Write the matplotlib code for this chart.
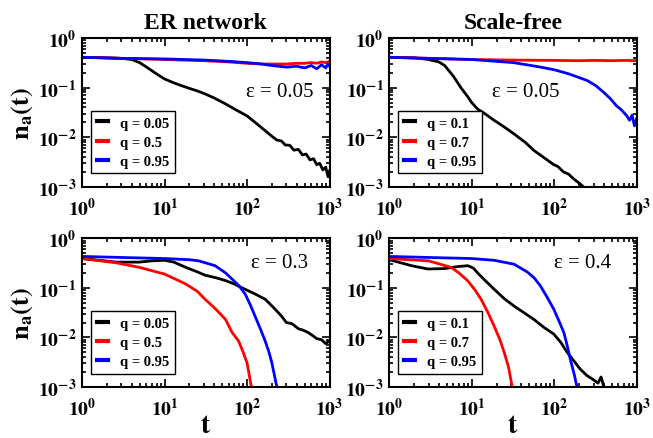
import math
import matplotlib
matplotlib.use("Agg")
import matplotlib.pyplot as plt
from matplotlib.ticker import LogLocator, FuncFormatter, NullFormatter

plt.rcParams['font.family'] = ['Liberation Serif', 'DejaVu Serif']
plt.rcParams['mathtext.fontset'] = 'stix'

# ER network, eps = 0.05
er1_labels = ["q = 0.05", "q = 0.5", "q = 0.95"]
er1_t_black = [1, 2, 3, 4, 5, 6.5, 8, 10, 13, 16, 20, 25, 31, 40, 55, 75, 100, 130, 166, 200,
               230, 262, 290, 330, 370, 420, 470, 520, 580, 640, 700, 760, 830, 900, 960, 1000]
er1_n_black = [0.41, 0.40, 0.39, 0.37, 0.32, 0.24, 0.19, 0.15, 0.125, 0.11, 0.097, 0.086, 0.075,
               0.062, 0.047, 0.035, 0.027, 0.019, 0.0136, 0.0105, 0.0088, 0.0084, 0.0070, 0.0069,
               0.0055, 0.0057, 0.0044, 0.0046, 0.0035, 0.0037, 0.0028, 0.0030, 0.0022, 0.0025,
               0.0016, 0.0021]
er1_t_red = [1, 3, 10, 30, 60, 100, 150, 200, 300, 400, 500, 600, 700, 800, 900, 1000]
er1_n_red = [0.41, 0.39, 0.37, 0.35, 0.33, 0.31, 0.30, 0.30, 0.30, 0.31, 0.31, 0.32, 0.31, 0.33,
             0.32, 0.34]
er1_t_blue = [1, 3, 10, 30, 60, 100, 150, 200, 300, 400, 500, 600, 700, 800, 900, 950, 1000]
er1_n_blue = [0.41, 0.39, 0.38, 0.36, 0.34, 0.32, 0.30, 0.28, 0.26, 0.27, 0.25, 0.28, 0.24, 0.29,
              0.25, 0.30, 0.27]

# Scale-free, eps = 0.05
sf1_labels = ["q = 0.1", "q = 0.7", "q = 0.95"]
sf1_t_black = [1, 2, 3, 4, 4.7, 6, 7.4, 9, 10, 11.8, 14, 18.7, 25, 32.6, 45, 57, 75, 99, 110,
               130, 150, 172, 200, 227]
sf1_n_black = [0.41, 0.40, 0.37, 0.33, 0.28, 0.17, 0.10, 0.065, 0.05, 0.037, 0.031, 0.022, 0.016,
               0.0117, 0.0078, 0.0054, 0.0039, 0.0028, 0.0026, 0.0020, 0.0018, 0.00145, 0.0012,
               0.001]
sf1_t_red = [1, 3, 10, 30, 100, 200, 300, 500, 700, 1000]
sf1_n_red = [0.41, 0.39, 0.37, 0.36, 0.355, 0.35, 0.355, 0.35, 0.355, 0.35]
sf1_t_blue = [1, 3, 10, 32, 60, 100, 150, 250, 320, 400, 480, 570, 650, 760, 820, 880, 940, 1000]
sf1_n_blue = [0.41, 0.39, 0.37, 0.32, 0.27, 0.23, 0.19, 0.14, 0.11, 0.08, 0.06, 0.043, 0.036,
              0.027, 0.022, 0.028, 0.017, 0.024]

# ER network, eps = 0.3
er2_labels = ["q = 0.05", "q = 0.5", "q = 0.95"]
er2_t_black = [1, 1.6, 2.6, 4.9, 7, 10, 13, 18, 25, 31, 42, 55, 70, 87, 120, 166, 210, 262, 300,
               350, 420, 480, 550, 620, 700, 800, 900, 1000]
er2_n_black = [0.39, 0.36, 0.33, 0.33, 0.35, 0.36, 0.33, 0.26, 0.21, 0.18, 0.16, 0.14, 0.12, 0.10,
               0.078, 0.059, 0.040, 0.027, 0.020, 0.019, 0.015, 0.014, 0.0126, 0.011, 0.0095,
               0.009, 0.0075, 0.0085]
er2_t_red = [1, 2.6, 4.9, 10, 18, 25, 31, 42, 55, 66, 79, 90, 100, 113]
er2_n_red = [0.39, 0.32, 0.26, 0.19, 0.12, 0.085, 0.059, 0.037, 0.023, 0.0126, 0.0085, 0.005,
             0.0031, 0.001]
er2_t_blue = [1, 3, 10, 20, 26, 41, 55, 66, 80, 95, 110, 125, 145, 166, 185, 200, 230]
er2_n_blue = [0.43, 0.41, 0.39, 0.37, 0.35, 0.28, 0.20, 0.15, 0.11, 0.075, 0.045, 0.027, 0.015,
              0.0085, 0.0050, 0.0031, 0.001]

# Scale-free, eps = 0.4
sf2_labels = ["q = 0.1", "q = 0.7", "q = 0.95"]
sf2_t_black = [1, 1.86, 2.95, 4.7, 7, 9, 10.5, 11.8, 14, 18.7, 25, 32.6, 45, 57, 75, 99, 120, 144,
               175, 207, 250, 300, 340, 370, 395]
sf2_n_black = [0.37, 0.28, 0.24, 0.245, 0.27, 0.28, 0.25, 0.20, 0.15, 0.094, 0.06, 0.043, 0.03,
               0.023, 0.016, 0.0117, 0.008, 0.005, 0.0033, 0.0023, 0.0017, 0.0014, 0.0012,
               0.0016, 0.0011]
sf2_t_red = [1, 3, 5.6, 7, 9, 11, 13, 16, 18.7, 22, 24.8, 28, 31]
sf2_n_red = [0.39, 0.35, 0.26, 0.2, 0.138, 0.09, 0.059, 0.03, 0.017, 0.009, 0.005, 0.0025, 0.001]
sf2_t_blue = [1, 3, 10, 18.7, 32.6, 47, 57, 68, 82, 99, 115, 131, 145, 157, 175, 189]
sf2_n_blue = [0.43, 0.41, 0.39, 0.36, 0.30, 0.21, 0.16, 0.11, 0.065, 0.037, 0.021, 0.0126,
              0.0065, 0.0036, 0.0018, 0.001]

colors = ['black', '#ff0000', '#0000ff']


def sci_fmt(v, pos):
    e = int(round(math.log10(v)))
    return r'$\mathbf{10^{%d}}$' % e


def style_axis(ax):
    ax.set_xscale('log')
    ax.set_yscale('log')
    ax.set_xlim(1, 1000)
    ax.set_ylim(1e-3, 1)
    for a in (ax.xaxis, ax.yaxis):
        a.set_major_locator(LogLocator(base=10, numticks=10))
        a.set_minor_locator(LogLocator(base=10, subs=range(2, 10), numticks=10))
        a.set_major_formatter(FuncFormatter(sci_fmt))
        a.set_minor_formatter(NullFormatter())
    ax.tick_params(which='both', direction='in', top=True, right=True, width=1.2)
    ax.tick_params(which='major', length=6, labelsize=14)
    ax.tick_params(axis='x', which='major', pad=7)
    ax.tick_params(axis='y', which='major', pad=4)
    ax.tick_params(which='minor', length=3)
    for s in ax.spines.values():
        s.set_linewidth(1.5)


fig = plt.figure(figsize=(6.53, 4.39), dpi=100)
lefts = [0.1256, 0.596]
bottoms = [0.572, 0.116]
w, h = 0.379, 0.339

panels = [
    (0, 0, er1_labels, [(er1_t_black, er1_n_black), (er1_t_red, er1_n_red), (er1_t_blue, er1_n_blue)],
     'ε = 0.05', (0.80, 0.64)),
    (0, 1, sf1_labels, [(sf1_t_black, sf1_n_black), (sf1_t_red, sf1_n_red), (sf1_t_blue, sf1_n_blue)],
     'ε = 0.05', (0.55, 0.64)),
    (1, 0, er2_labels, [(er2_t_black, er2_n_black), (er2_t_red, er2_n_red), (er2_t_blue, er2_n_blue)],
     'ε = 0.3', (0.80, 0.84)),
    (1, 1, sf2_labels, [(sf2_t_black, sf2_n_black), (sf2_t_red, sf2_n_red), (sf2_t_blue, sf2_n_blue)],
     'ε = 0.4', (0.78, 0.84)),
]

for row, col, labels, series, eps, pos in panels:
    ax = fig.add_axes([lefts[col], bottoms[row], w, h])
    for (t, n), c, lab in zip(series, colors, labels):
        ax.plot(t, n, color=c, lw=2, label=lab)
    style_axis(ax)
    ax.text(pos[0], pos[1], eps, transform=ax.transAxes, ha='center', va='center', fontsize=15)
    leg = ax.legend(loc='lower left', bbox_to_anchor=(0.035, 0.09), borderaxespad=0,
                    fancybox=False, framealpha=1, edgecolor='black', handlelength=0.8,
                    handletextpad=0.8, labelspacing=0.4, borderpad=0.4,
                    prop={'weight': 'bold', 'size': 10.5})
    leg.get_frame().set_linewidth(1.0)
    for line in leg.get_lines():
        line.set_linewidth(3)
    if row == 0:
        ax.set_title('ER network' if col == 0 else 'Scale-free', fontsize=17,
                     fontweight='bold', pad=7)
    if col == 0:
        ax.set_ylabel(r'$\mathbf{n_a(t)}$', fontsize=19, labelpad=2)
    if row == 1:
        ax.set_xlabel(r'$\mathbf{t}$', fontsize=20, labelpad=-4)

fig.savefig('out.png', dpi=100)
